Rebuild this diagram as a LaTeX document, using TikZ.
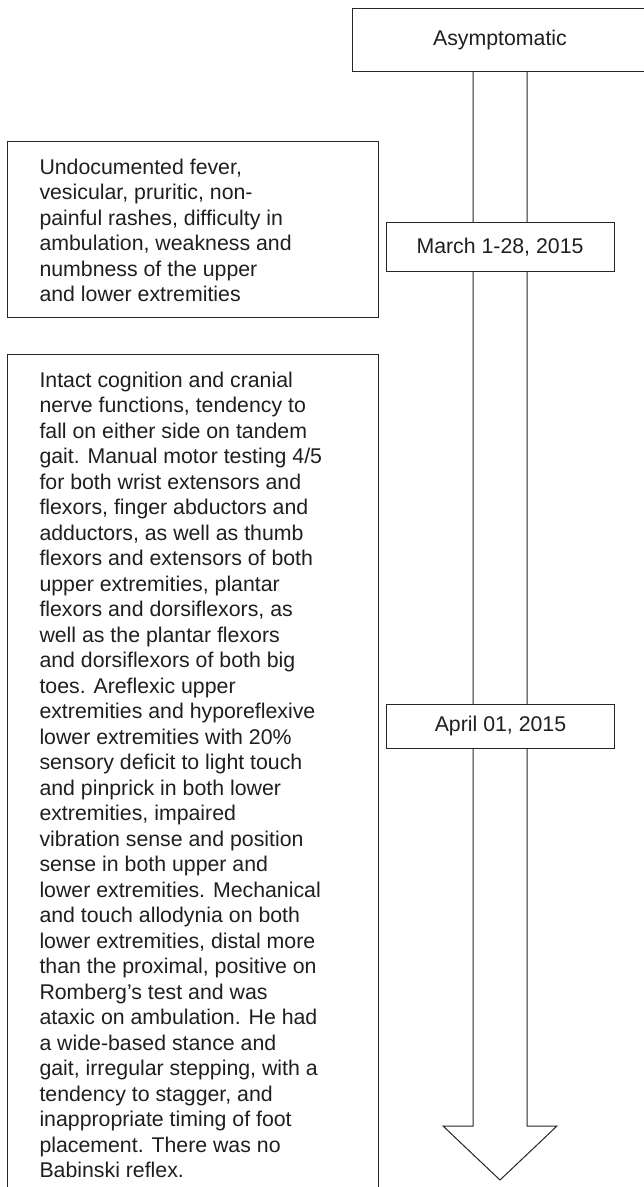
\documentclass[tikz,border=0pt]{standalone}
\usepackage{fontspec}
\setmainfont{Liberation Sans}
\begin{document}
\begin{tikzpicture}[x=1pt,y=-1pt,
  ln/.style={draw=black!85,line width=1pt},
  datebox/.style={ln,fill=white,inner sep=0pt,text=black!88,
    font=\fontsize{21.3}{25.5}\selectfont},
  frame/.style={ln,fill=white,inner sep=0pt,anchor=north west},
  para/.style={inner sep=0pt,anchor=north west,align=left,text=black!88,
    font=\fontsize{21.3}{25.5}\selectfont}]
\useasboundingbox (0,0) rectangle (644,1187);
\clip (0,0) rectangle (644,1187);
% arrow outline
\coordinate (sL) at (473,71);
\coordinate (sR) at (527,71);
\coordinate (bL) at (473,1126);
\coordinate (bR) at (527,1126);
\coordinate (hL) at (443,1126);
\coordinate (hR) at (557,1126);
\coordinate (tip) at (500,1180);
\draw[ln,line join=miter] (sL) -- (bL) -- (hL) -- (tip) -- (hR) -- (bR) -- (sR);
% top box
\node[datebox,minimum width=296pt,minimum height=63pt] (asym) at (500,39.5) {Asymptomatic};
% date boxes
\node[datebox,minimum width=228pt,minimum height=49pt] (march) at (500,247.2) {March 1-28, 2015};
\node[datebox,minimum width=228pt,minimum height=44pt] (april) at (500.5,726) {April 01, 2015};
% left boxes
\node[frame,minimum width=370.5pt,minimum height=176pt] (f1) at (7,141) {};
\node[frame,minimum width=370.5pt,minimum height=850pt] (f2) at (7,354) {};
\node[para] (t1) at (39.3,158.5) {Undocumented fever,\\vesicular, pruritic, non-\\painful rashes, difficulty in\\ambulation, weakness and\\numbness of the upper\\and lower extremities};
\node[para] (t2) at (39.3,371.8) {Intact cognition and cranial\\nerve functions, tendency to\\fall on either side on tandem\\gait. Manual motor testing 4/5\\for both wrist extensors and\\flexors, finger abductors and\\adductors, as well as thumb\\flexors and extensors of both\\upper extremities, plantar\\flexors and dorsiflexors, as\\well as the plantar flexors\\and dorsiflexors of both big\\toes. Areflexic upper\\extremities and hyporeflexive\\lower extremities with 20\%\\sensory deficit to light touch\\and pinprick in both lower\\extremities, impaired\\vibration sense and position\\sense in both upper and\\lower extremities. Mechanical\\and touch allodynia on both\\lower extremities, distal more\\than the proximal, positive on\\Romberg’s test and was\\ataxic on ambulation. He had\\a wide-based stance and\\gait, irregular stepping, with a\\tendency to stagger, and\\inappropriate timing of foot\\placement. There was no\\Babinski reflex.};
\end{tikzpicture}
\end{document}
